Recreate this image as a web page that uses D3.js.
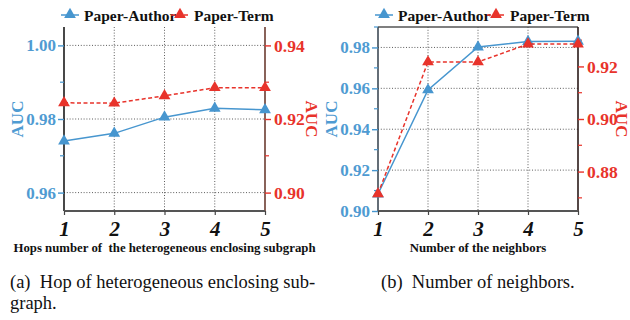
<!DOCTYPE html>
<html lang="en">
<head>
<meta charset="UTF-8">
<title>AUC charts</title>
<script src="https://cdnjs.cloudflare.com/ajax/libs/d3/7.8.5/d3.min.js"></script>
<style>
  body { margin: 0; background: #fff; }
</style>
</head>
<body>
<svg id="chart" width="630" height="320"></svg>
<script>
// data
const hops = [1, 2, 3, 4, 5];
const hopAuthor = [0.974, 0.9761, 0.9805, 0.9829, 0.9825];
const hopTerm = [0.9244, 0.9243, 0.9263, 0.9285, 0.9285];

const neighbors = [1, 2, 3, 4, 5];
const nbAuthor = [0.9083, 0.9592, 0.9802, 0.9829, 0.983];
const nbTerm = [0.8715, 0.9217, 0.9217, 0.9285, 0.9285];

const seriesNames = ['Paper-Author', 'Paper-Term'];

const hopLeftTicks = [0.96, 0.98, 1.00];
const hopRightTicks = [0.90, 0.92, 0.94];
const nbLeftTicks = [0.90, 0.92, 0.94, 0.96, 0.98];
const nbRightTicks = [0.88, 0.90, 0.92];

const blue = '#4796cf';
const blueText = '#4f9bd2';
const red = '#e8332b';
const SERIF = '"Liberation Serif"';

const svg = d3.select('#chart');

function panel(opt) {
  const top = 27, bottom = 211;
  const x = d3.scaleLinear().domain([1, 5]).range([opt.x0, opt.x1]);
  const yL = d3.scaleLinear().domain(opt.leftDomain).range([bottom, top]);
  const yR = d3.scaleLinear().domain(opt.rightDomain).range([bottom, top]);
  const g = svg.append('g');

  // grid
  g.selectAll('.hg').data(opt.leftTicks).join('line')
    .attr('x1', opt.x0).attr('x2', opt.x1)
    .attr('y1', d => yL(d)).attr('y2', d => yL(d))
    .attr('stroke', '#333').attr('stroke-width', 0.8).attr('stroke-dasharray', '1,1.8');
  g.selectAll('.vg').data(opt.xs.slice(1, -1)).join('line')
    .attr('x1', d => x(d)).attr('x2', d => x(d))
    .attr('y1', top).attr('y2', bottom)
    .attr('stroke', '#333').attr('stroke-width', 0.8).attr('stroke-dasharray', '1,1.8');

  if (opt.topLine) {
    g.append('line').attr('x1', opt.x0).attr('x2', opt.x1).attr('y1', top).attr('y2', top)
      .attr('stroke', '#555').attr('stroke-width', 1.5);
  }

  // left axis
  const minorL = d3.range(opt.leftTicks.length - 1).map(i => (opt.leftTicks[i] + opt.leftTicks[i + 1]) / 2);
  if (opt.leftDomain[1] > opt.leftTicks[opt.leftTicks.length - 1] + 0.005) minorL.push(opt.leftTicks[opt.leftTicks.length - 1] + 0.01);
  const axL = g.append('g').attr('transform', `translate(${opt.x0},0)`)
    .call(d3.axisLeft(yL).tickValues(opt.leftTicks).tickFormat(d3.format('.2f')).tickSize(6).tickPadding(2));
  axL.attr('font-family', SERIF);
  axL.select('.domain').attr('stroke', opt.leftAxisColor).attr('stroke-width', 1.6).attr('d', `M0,${top}V${bottom}`);
  axL.selectAll('.tick line').attr('stroke', blue).attr('stroke-width', 1.4);
  axL.selectAll('.tick text').attr('fill', blueText).attr('font-size', 17).attr('font-weight', 'bold')
    .style('font-family', SERIF);
  g.selectAll('.ml').data(minorL).join('line')
    .attr('x1', opt.x0 - 4).attr('x2', opt.x0).attr('y1', d => yL(d)).attr('y2', d => yL(d))
    .attr('stroke', blue).attr('stroke-width', 1.2);

  // right axis
  const minorR = d3.range(opt.rightTicks.length - 1).map(i => (opt.rightTicks[i] + opt.rightTicks[i + 1]) / 2);
  const lastR = opt.rightTicks[opt.rightTicks.length - 1];
  if (opt.rightDomain[1] > lastR + 0.005) minorR.push(lastR + 0.01);
  if (opt.rightDomain[0] < opt.rightTicks[0] - 0.005) minorR.push(opt.rightTicks[0] - 0.01);
  const axR = g.append('g').attr('transform', `translate(${opt.x1},0)`)
    .call(d3.axisRight(yR).tickValues(opt.rightTicks).tickFormat(d3.format('.2f')).tickSize(6).tickPadding(3));
  axR.attr('font-family', SERIF);
  axR.select('.domain').attr('stroke', opt.rightAxisColor).attr('stroke-width', 1.6).attr('d', `M0,${top}V${bottom}`);
  axR.selectAll('.tick line').attr('stroke', red).attr('stroke-width', 1.4);
  axR.selectAll('.tick text').attr('fill', red).attr('font-size', 17.5).attr('font-weight', 'bold')
    .style('font-family', SERIF);
  g.selectAll('.mr').data(minorR).join('line')
    .attr('x1', opt.x1).attr('x2', opt.x1 + 4).attr('y1', d => yR(d)).attr('y2', d => yR(d))
    .attr('stroke', red).attr('stroke-width', 1.2);

  // bottom axis
  const axB = g.append('g').attr('transform', `translate(0,${bottom})`)
    .call(d3.axisBottom(x).tickValues(opt.xs).tickFormat(d3.format('d')).tickSize(4).tickPadding(6));
  axB.attr('font-family', SERIF);
  axB.select('.domain').attr('stroke', '#555').attr('stroke-width', 2).attr('d', `M${opt.x0},0H${opt.x1}`);
  axB.selectAll('.tick line').attr('stroke', '#444').attr('stroke-width', 1.2);
  axB.selectAll('.tick text').attr('fill', '#111').attr('font-size', 21).attr('font-weight', 'bold')
    .attr('font-style', 'italic').style('font-family', SERIF);

  // axis titles
  svg.append('text').attr('transform', `translate(${opt.leftTitleX},${(top + bottom) / 2}) rotate(-90)`)
    .attr('text-anchor', 'middle').attr('dominant-baseline', 'central').style('font-family', SERIF)
    .attr('fill', blueText).attr('font-size', 17).attr('font-weight', 'bold').text('AUC');
  svg.append('text').attr('transform', `translate(${opt.rightTitleX},${(top + bottom) / 2}) rotate(90)`)
    .attr('text-anchor', 'middle').attr('dominant-baseline', 'central').style('font-family', SERIF)
    .attr('fill', red).attr('font-size', 17).attr('font-weight', 'bold').text('AUC');
  svg.append('text').attr('x', (opt.x0 + opt.x1) / 2).attr('y', 252)
    .attr('text-anchor', 'middle').attr('fill', '#111').attr('font-size', 12.8).attr('font-weight', 'bold')
    .style('font-family', SERIF).style('white-space', 'pre').text(opt.xTitle);

  // lines
  const tri = d3.symbol().type(d3.symbolTriangle).size(60);
  const lineA = d3.line().x((d, i) => x(opt.xs[i])).y(d => yL(d));
  const lineT = d3.line().x((d, i) => x(opt.xs[i])).y(d => yR(d));

  g.append('path').datum(opt.author).attr('d', lineA)
    .attr('fill', 'none').attr('stroke', blue).attr('stroke-width', 1.5);
  g.selectAll('.pa').data(opt.author).join('path')
    .attr('d', tri).attr('transform', (d, i) => `translate(${x(opt.xs[i])},${yL(d)})`)
    .attr('fill', blue);

  g.append('path').datum(opt.term).attr('d', lineT)
    .attr('fill', 'none').attr('stroke', red).attr('stroke-width', 1.5).attr('stroke-dasharray', '4,2.5');
  g.selectAll('.pt').data(opt.term).join('path')
    .attr('d', tri).attr('transform', (d, i) => `translate(${x(opt.xs[i])},${yR(d)})`)
    .attr('fill', red);

  // legend
  const lg = svg.append('g').attr('transform', `translate(${opt.legendX},15)`);
  const items = [
    { name: seriesNames[0], color: blue, dash: null, dx: 0 },
    { name: seriesNames[1], color: red, dash: '4,2.5', dx: opt.legendGap }
  ];
  items.forEach(it => {
    const li = lg.append('g').attr('transform', `translate(${it.dx},0)`);
    li.append('line').attr('x1', 0).attr('x2', 18).attr('y1', 0).attr('y2', 0)
      .attr('stroke', it.color).attr('stroke-width', 1.5).attr('stroke-dasharray', it.dash);
    li.append('path').attr('d', tri).attr('transform', 'translate(9,-0.5)').attr('fill', it.color);
    li.append('text').attr('x', 23).attr('y', 0).attr('dominant-baseline', 'central')
      .style('font-family', SERIF)
      .attr('font-size', 15.5).attr('font-weight', 'bold').attr('fill', '#111').text(it.name);
  });
}

panel({
  x0: 64, x1: 265, xs: hops,
  leftDomain: [0.955, 1.005], rightDomain: [0.895, 0.945],
  leftTicks: hopLeftTicks, rightTicks: hopRightTicks,
  author: hopAuthor, term: hopTerm,
  leftAxisColor: '#1a1a1a', rightAxisColor: '#6b3b30',
  leftTitleX: 17, rightTitleX: 311, topLine: false,
  xTitle: 'Hops number of  the heterogeneous enclosing subgraph',
  legendX: 61, legendGap: 110
});

panel({
  x0: 378, x1: 578, xs: neighbors,
  leftDomain: [0.90, 0.99], rightDomain: [0.865, 0.935],
  leftTicks: nbLeftTicks, rightTicks: nbRightTicks,
  author: nbAuthor, term: nbTerm,
  leftAxisColor: '#3e4a55', rightAxisColor: '#2a1a18',
  leftTitleX: 331, rightTitleX: 621, topLine: true,
  xTitle: 'Number of the neighbors',
  legendX: 375, legendGap: 112
});

// captions
const cap = svg.append('g').attr('font-size', 18.5).attr('fill', '#111').style('font-family', SERIF);
cap.append('text').attr('x', 10).attr('y', 288).style('white-space', 'pre').style('font-family', SERIF)
  .text('(a)  Hop of heterogeneous enclosing sub-');
cap.append('text').attr('x', 10).attr('y', 309).style('font-family', SERIF).text('graph.');
cap.append('text').attr('x', 381).attr('y', 288).style('white-space', 'pre').style('font-family', SERIF)
  .text('(b)  Number of neighbors.');
</script>
</body>
</html>
